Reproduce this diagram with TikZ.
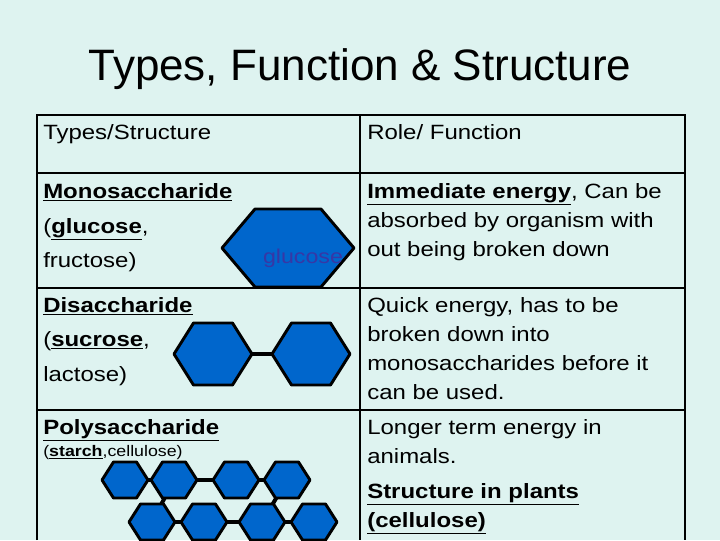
\documentclass[tikz,border=0pt]{standalone}
\usepackage{fontspec}
\setmainfont{Liberation Sans}
\newfontfamily\widefont[FakeStretch=1.16]{Liberation Sans}
\definecolor{bgcol}{RGB}{222,243,240}
\definecolor{hexblue}{RGB}{0,102,204}
\definecolor{gluc}{RGB}{55,55,165}
\tikzset{
  hexa/.style={fill=hexblue, draw=black, line width=2.2pt, line join=round},
  bond/.style={draw=black, line width=3pt},
  grid/.style={draw=black, line width=1.6pt},
  cell/.style={anchor=north west, inner sep=0pt, align=left, font=\widefont\fontsize{15.5}{21.75}\selectfont}
}
% hexagon: centre x, centre y, half width, half height
\newcommand{\hexa}[4]{%
  \draw[hexa] (#1-#3,#2) -- (#1-#3/2,#2-#4) -- (#1+#3/2,#2-#4)
    -- (#1+#3,#2) -- (#1+#3/2,#2+#4) -- (#1-#3/2,#2+#4) -- cycle;}
\begin{document}
\begin{tikzpicture}[x=0.75pt, y=-0.75pt]
  % Background
  \fill[bgcol] (0,0) rectangle (720,540);
  \useasboundingbox (0,0) rectangle (720,540);

  % Title
  \node (title) at (360,69) {\fontsize{33}{38}\selectfont Types, Function \& Structure};

  % Table grid
  \draw[grid] (37,540) -- (37,115) -- (685,115) -- (685,540);
  \draw[grid] (360,115) -- (360,540);
  \foreach \y in {173, 288, 410} {
    \draw[grid] (37,\y) -- (685,\y);
  }

  % Header row
  \node[cell] (hleft) at (43,124) {Types/Structure};
  \node[cell] (hright) at (367,124) {Role/ Function};

  % Monosaccharide
  \node[cell] (mono) at (43,183) {\textbf{\underline{Monosaccharide}}};
  \node[cell] (monoa) at (43,218) {(\textbf{\underline{glucose}},};
  \node[cell] (monob) at (43,252) {fructose)};
  \hexa{288}{248}{66}{39}
  \node[text=gluc, font=\widefont\fontsize{15}{18}\selectfont] (glu) at (303,258) {glucose};
  \node[cell] (monor) at (367,183) {\textbf{\underline{Immediate energy}}, Can be\\absorbed by organism with\\out being broken down};

  % Disaccharide
  \node[cell] (di) at (43,297) {\textbf{\underline{Disaccharide}}};
  \node[cell] (dia) at (43,331) {(\textbf{\underline{sucrose}},};
  \node[cell] (dib) at (43,366) {lactose)};
  \coordinate (d1) at (213,354);
  \coordinate (d2) at (311,354);
  \draw[bond] (d1) -- (d2);
  \hexa{213}{354}{39}{31}
  \hexa{311}{354}{39}{31}
  \node[cell] (dir) at (367,297) {Quick energy, has to be\\broken down into\\monosaccharides before it\\can be used.};

  % Polysaccharide
  \node[cell] (poly) at (43,419) {\textbf{\underline{Polysaccharide}}};
  \node[cell, font=\widefont\fontsize{11.5}{13}\selectfont] (polya) at (43,445) {(\textbf{\underline{starch}},cellulose)};
  \coordinate (t1) at (125,480);
  \coordinate (t2) at (174,480);
  \coordinate (t3) at (236,480);
  \coordinate (t4) at (287,480);
  \coordinate (b1) at (152,522);
  \coordinate (b2) at (204,522);
  \coordinate (b3) at (262,522);
  \coordinate (b4) at (314,522);
  \draw[bond] (t1) -- (t4);
  \draw[bond] (b1) -- (b4);
  \draw[bond] (t2) -- (b1);
  \draw[bond] (t4) -- (b3);
  \foreach \c in {125, 174, 236, 287} {
    \hexa{\c}{480}{23}{18}
  }
  \foreach \c in {152, 204, 262, 314} {
    \hexa{\c}{522}{23}{18}
  }
  \node[cell] (polyr) at (367,419) {Longer term energy in\\animals.};
  \node[cell] (polys) at (367,483) {\textbf{\underline{Structure in plants}}\\\textbf{\underline{(cellulose)}}};
\end{tikzpicture}
\end{document}
